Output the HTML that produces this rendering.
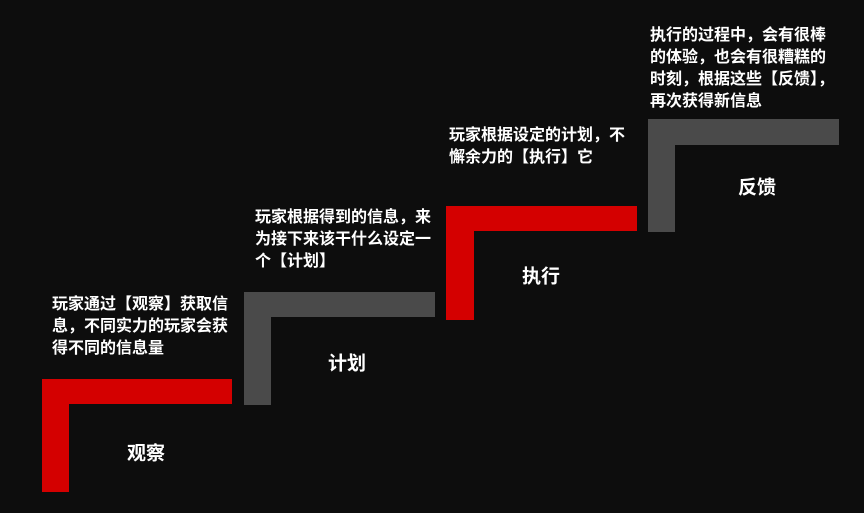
<!DOCTYPE html>
<html><head><meta charset="utf-8"><style>
body{margin:0;width:864px;height:513px;background:#0d0d0d;position:relative;overflow:hidden;font-family:"Liberation Sans","Noto Sans CJK SC",sans-serif;color:#fff;font-weight:bold}
.b{position:absolute}
.r{background:#d40000}.g{background:#4a4a4a}
.t{position:absolute;font-size:16px;line-height:22px;white-space:nowrap}
.l{position:absolute;font-size:19px;transform:translate(-50%,-50%);white-space:nowrap}
</style></head><body>
<div class="b r" style="left:42px;top:379px;width:190px;height:25px"></div>
<div class="b r" style="left:42px;top:379px;width:27px;height:113px"></div>
<div class="b g" style="left:244px;top:292px;width:191px;height:25px"></div>
<div class="b g" style="left:244px;top:292px;width:27px;height:113px"></div>
<div class="b r" style="left:446px;top:206px;width:191px;height:25px"></div>
<div class="b r" style="left:446px;top:206px;width:28px;height:114px"></div>
<div class="b g" style="left:648px;top:119px;width:191px;height:26px"></div>
<div class="b g" style="left:648px;top:119px;width:27px;height:113px"></div>

<div class="t" style="left:52px;top:294px">玩家通过【观察】获取信<br>息，不同实力的玩家会获<br>得不同的信息量</div>
<div class="t" style="left:255px;top:207px">玩家根据得到的信息，来<br>为接下来该干什么设定一<br>个【计划】</div>
<div class="t" style="left:449px;top:125px">玩家根据设定的计划，不<br>懈余力的【执行】它</div>
<div class="t" style="left:650px;top:25px">执行的过程中，会有很棒<br>的体验，也会有很糟糕的<br>时刻，根据这些【反馈】，<br>再次获得新信息</div>

<div class="l" style="left:146px;top:452px">观察</div>
<div class="l" style="left:347px;top:362px">计划</div>
<div class="l" style="left:541px;top:275px">执行</div>
<div class="l" style="left:757px;top:186px">反馈</div>
</body></html>
